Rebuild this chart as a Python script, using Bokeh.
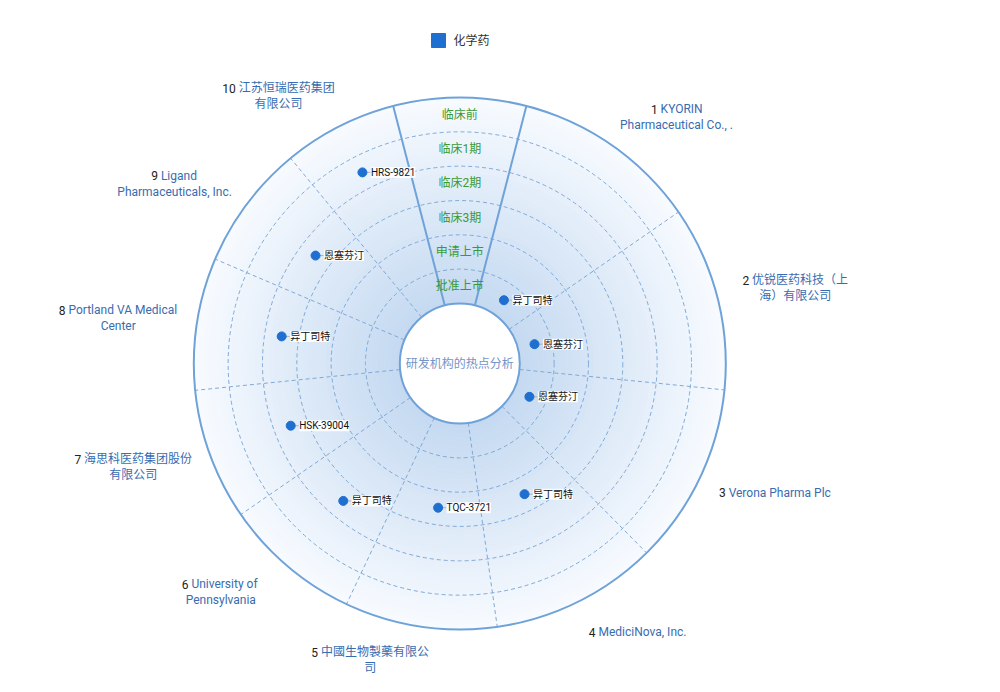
import math
from bokeh.plotting import figure
from bokeh.models import Range1d
from bokeh.embed import file_html
from bokeh.resources import INLINE
from bokeh.core.properties import value

# ---------------- data ----------------
legend_label = "化学药"
center_title = "研发机构的热点分析"
# phases from the inner ring to the outer ring
phases = ["批准上市", "申请上市", "临床3期", "临床2期", "临床1期", "临床前"]
companies = [
    "KYORIN Pharmaceutical Co., .",
    "优锐医药科技（上海）有限公司",
    "Verona Pharma Plc",
    "MediciNova, Inc.",
    "中國生物製藥有限公司",
    "University of Pennsylvania",
    "海思科医药集团股份有限公司",
    "Portland VA Medical Center",
    "Ligand Pharmaceuticals, Inc.",
    "江苏恒瑞医药集团有限公司",
]
# how each company name wraps in the label (first line follows the rank number)
company_lines = [
    ["KYORIN", "Pharmaceutical Co., ."],
    ["优锐医药科技（上", "海）有限公司"],
    ["Verona Pharma Plc"],
    ["MediciNova, Inc."],
    ["中國生物製藥有限公", "司"],
    ["University of", "Pennsylvania"],
    ["海思科医药集团股份", "有限公司"],
    ["Portland VA Medical", "Center"],
    ["Ligand", "Pharmaceuticals, Inc."],
    ["江苏恒瑞医药集团", "有限公司"],
]
drugs = ["异丁司特", "恩塞芬汀", "恩塞芬汀", "异丁司特", "TQC-3721",
         "异丁司特", "HSK-39004", "异丁司特", "恩塞芬汀", "HRS-9821"]
drug_phase = ["批准上市", "批准上市", "批准上市", "临床3期", "临床3期",
              "临床2期", "临床2期", "临床2期", "临床2期", "临床1期"]

# ---------------- layout / style ----------------
W, H = 984, 676
CX, CY = 459.3, 363.0
R_IN, R_OUT = 60.0, 266.0
GAP = 14.5                      # half width (deg) of the phase-label sector at the top
SECTOR_WEIGHTS = [40.8, 40.4, 39.7, 36.5, 33.3, 30.2, 28.8, 28.9, 27.4, 25.0]
LABEL_R = 300.0
LABEL_DX = 45.0
LINE_H = 16.0

FONT = "Roboto, Noto Sans CJK SC"
BLUE_LINE = "#6ea2d8"
DASH_COL = "#80a9d6"
DOT_COL = "#1f6fd1"
NAME_COL = "#386cb0"
PHASE_COL = "#3c9a34"

ring_w = (R_OUT - R_IN) / len(phases)
total = 360.0 - 2 * GAP
edges = [GAP]
for wgt in SECTOR_WEIGHTS:
    edges.append(edges[-1] + wgt * total / sum(SECTOR_WEIGHTS))
centers = [(edges[i] + edges[i + 1]) / 2 for i in range(len(companies))]


def pol(r, deg):
    a = math.radians(deg)
    return CX + r * math.sin(a), CY - r * math.cos(a)


def tw(s, size=12):
    w = 0.0
    for ch in s:
        if ord(ch) > 0x2E80:
            w += 1.0
        elif ch.isdigit():
            w += 0.562
        elif ch == " ":
            w += 0.248
        elif ch in "il.,I":
            w += 0.25
        elif ch in "ftrj":
            w += 0.34
        elif ch == "m":
            w += 0.87
        elif ch == "M":
            w += 0.85
        elif ch.isupper():
            w += 0.64
        else:
            w += 0.55
    return w * size


p = figure(width=W, height=H, x_range=Range1d(0, W), y_range=Range1d(H, 0),
           output_backend="svg", toolbar_location=None,
           x_axis_type=None, y_axis_type=None, min_border=0)
p.outline_line_color = None
p.grid.visible = False
p.background_fill_color = "white"
p.border_fill_color = "white"

# radial gradient fill of the disc
N = 44
c0 = (196, 217, 241)
c1 = (248, 251, 255)
dr = (R_OUT - R_IN) / N
for i in range(N):
    t = (i + 0.5) / N
    col = "#%02x%02x%02x" % tuple(int(round(c0[k] + (c1[k] - c0[k]) * t)) for k in range(3))
    p.annulus(x=[CX], y=[CY], inner_radius=R_IN + i * dr - 0.3,
              outer_radius=min(R_IN + (i + 1) * dr + 0.3, R_OUT),
              fill_color=col, line_color=None)

# dashed ring borders
for k in range(1, len(phases)):
    p.circle(x=[CX], y=[CY], radius=R_IN + k * ring_w, fill_color=None,
             line_color=DASH_COL, line_dash="4 3", line_width=1)

# dashed sector borders
xs0, ys0, xs1, ys1 = [], [], [], []
for e in edges[1:-1]:
    x0, y0 = pol(R_IN, e)
    x1, y1 = pol(R_OUT, e)
    xs0.append(x0); ys0.append(y0); xs1.append(x1); ys1.append(y1)
p.segment(x0=xs0, y0=ys0, x1=xs1, y1=ys1, line_color=DASH_COL, line_dash="4 3", line_width=1)

# solid borders of the phase-label sector
sx0, sy0, sx1, sy1 = [], [], [], []
for e in (edges[0], edges[-1]):
    x0, y0 = pol(R_IN, e)
    x1, y1 = pol(R_OUT, e)
    sx0.append(x0); sy0.append(y0); sx1.append(x1); sy1.append(y1)
p.segment(x0=sx0, y0=sy0, x1=sx1, y1=sy1, line_color=BLUE_LINE, line_width=2)

# outer and inner circles
p.circle(x=[CX], y=[CY], radius=R_OUT, fill_color=None, line_color=BLUE_LINE, line_width=2)
p.circle(x=[CX], y=[CY], radius=R_IN, fill_color="white", line_color=BLUE_LINE, line_width=2)

# phase labels
px, py = [], []
for i, ph in enumerate(phases):
    x, y = pol(R_IN + (i + 0.5) * ring_w, 0)
    px.append(x); py.append(y)
p.text(x=px, y=py, text=phases, text_font=value(FONT), text_font_size="12px",
       text_color=PHASE_COL, text_align="center", text_baseline="middle")

# center title
p.text(x=[CX], y=[CY], text=[center_title], text_font=value(FONT), text_font_size="12px",
       text_color="#7494c8", text_align="center", text_baseline="middle")

# drug points
dx, dy = [], []
for i, d in enumerate(drugs):
    ri = phases.index(drug_phase[i])
    x, y = pol(R_IN + (ri + 0.5) * ring_w, centers[i])
    dx.append(x); dy.append(y)
p.segment(x0=[x + 4 for x in dx], y0=dy, x1=[x + 8 for x in dx], y1=dy,
          line_color="#b0b0b0", line_width=1)
p.text(x=[x + 8.5 for x in dx], y=dy, text=drugs, text_font=value(FONT), text_font_size="10px",
       text_color="#111111", text_align="left", text_baseline="middle",
       background_fill_color="white", background_fill_alpha=0.9)
p.scatter(x=dx, y=dy, size=9, fill_color=DOT_COL, line_color=DOT_COL)

# company labels
nx, ny, nt = [], [], []
fx, fy, ft = [], [], []
sx, sy, st = [], [], []
for i, lines in enumerate(company_lines):
    ang = centers[i]
    ax, ay = pol(LABEL_R, ang)
    s = math.sin(math.radians(ang))
    cxl = ax + (LABEL_DX if s > 0 else -LABEL_DX)
    nlines = len(lines)
    top = ay - (nlines - 1) * LINE_H / 2
    num = str(i + 1)
    w1 = tw(num) + tw(" ") + tw(lines[0])
    left = cxl - w1 / 2
    nx.append(left); ny.append(top); nt.append(num)
    fx.append(left + tw(num) + tw(" ")); fy.append(top); ft.append(lines[0])
    for j in range(1, nlines):
        sx.append(cxl); sy.append(top + j * LINE_H); st.append(lines[j])
p.text(x=nx, y=ny, text=nt, text_font=value(FONT), text_font_size="12px",
       text_color="#222222", text_align="left", text_baseline="middle")
p.text(x=fx, y=fy, text=ft, text_font=value(FONT), text_font_size="12px",
       text_color=NAME_COL, text_align="left", text_baseline="middle")
p.text(x=sx, y=sy, text=st, text_font=value(FONT), text_font_size="12px",
       text_color=NAME_COL, text_align="center", text_baseline="middle")

# legend
p.rect(x=[438], y=[40], width=14, height=14, fill_color=DOT_COL, line_color=DOT_COL)
p.text(x=[453], y=[40], text=[legend_label], text_font=value(FONT), text_font_size="12px",
       text_color="#333333", text_align="left", text_baseline="middle")

open("out.html", "w").write(file_html(p, INLINE))
